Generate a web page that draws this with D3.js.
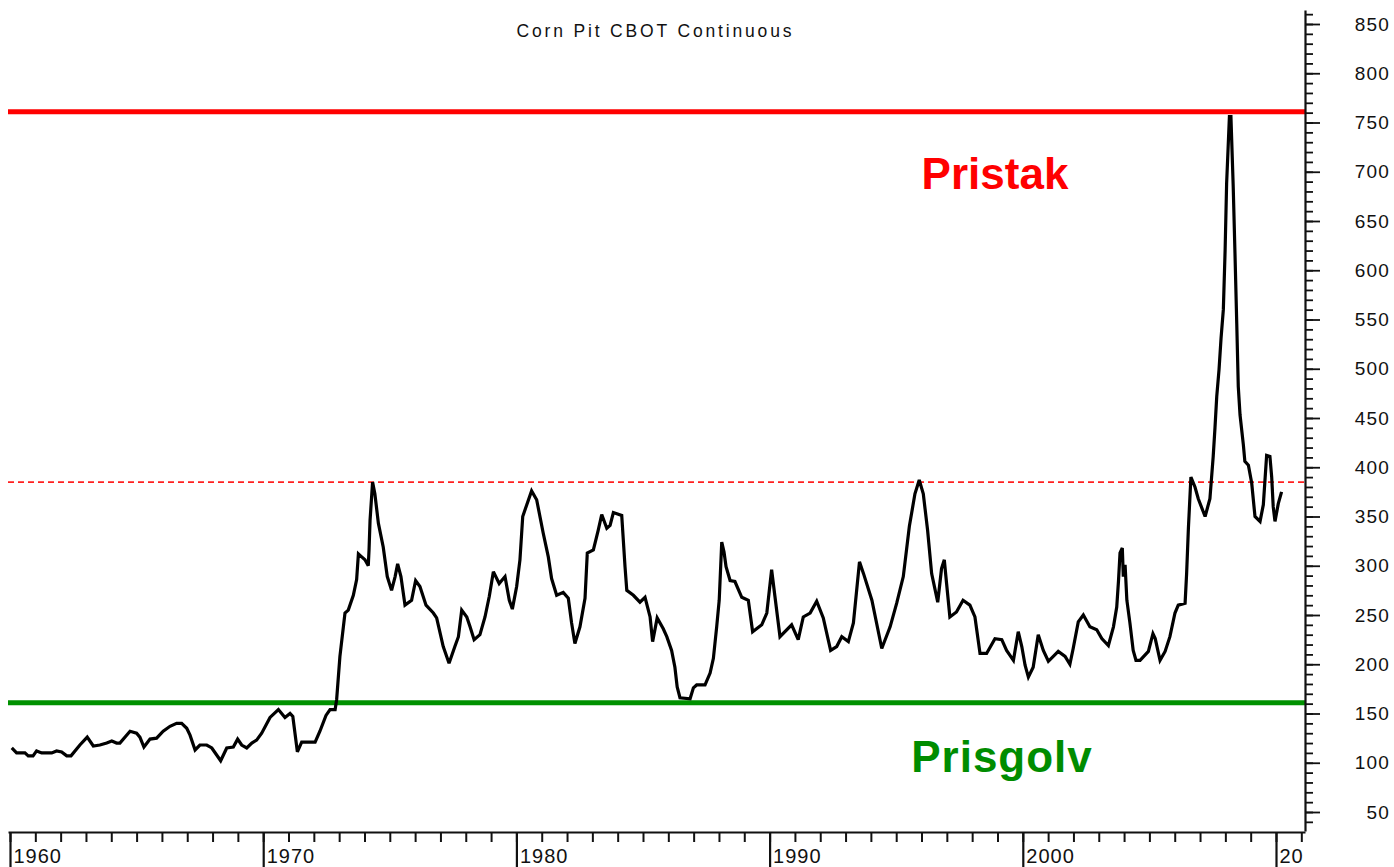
<!DOCTYPE html>
<html>
<head>
<meta charset="utf-8">
<script src="https://cdn.jsdelivr.net/npm/d3@7"></script>
<style>
  body { margin: 0; background: #fff; }
  text { font-family: "Liberation Sans", Arial, sans-serif; }
</style>
</head>
<body>
<svg id="chart"></svg>
<script>
const w = 1394;
const h = 867;

// price series (year, cents/bushel)
const years = [
  1960.07, 1960.26, 1960.59, 1960.72, 1960.91, 1961.05, 1961.25, 1961.65, 1961.84, 1962.04,
  1962.24, 1962.41, 1962.76, 1963.05, 1963.29, 1963.55, 1963.82, 1964.02, 1964.21, 1964.34,
  1964.74, 1965.00, 1965.13, 1965.29, 1965.53, 1965.79, 1966.05, 1966.32, 1966.58, 1966.78,
  1966.98, 1967.11, 1967.31, 1967.50, 1967.77, 1967.97, 1968.32, 1968.56, 1968.82, 1968.99,
  1969.15, 1969.35, 1969.55, 1969.74, 1969.94, 1970.27, 1970.60, 1970.86, 1971.06, 1971.17,
  1971.35, 1971.52, 1972.05, 1972.24, 1972.48, 1972.64, 1972.84, 1972.90, 1973.03, 1973.23,
  1973.36, 1973.56, 1973.69, 1973.76, 1973.89, 1974.02, 1974.15, 1974.18, 1974.22, 1974.32,
  1974.41, 1974.55, 1974.74, 1974.90, 1975.07, 1975.21, 1975.31, 1975.44, 1975.60, 1975.86,
  1976.02, 1976.19, 1976.43, 1976.72, 1976.85, 1977.11, 1977.34, 1977.57, 1977.71, 1977.84,
  1978.04, 1978.17, 1978.33, 1978.56, 1978.76, 1978.93, 1979.09, 1979.32, 1979.55, 1979.72,
  1979.84, 1980.01, 1980.14, 1980.25, 1980.41, 1980.60, 1980.80, 1981.06, 1981.26, 1981.39,
  1981.59, 1981.85, 1982.05, 1982.18, 1982.31, 1982.51, 1982.71, 1982.80, 1983.04, 1983.23,
  1983.37, 1983.57, 1983.70, 1983.83, 1984.16, 1984.29, 1984.36, 1984.62, 1984.88, 1985.08,
  1985.28, 1985.38, 1985.56, 1985.80, 1985.94, 1986.13, 1986.26, 1986.35, 1986.46, 1986.86,
  1986.99, 1987.12, 1987.45, 1987.65, 1987.78, 1987.91, 1988.01, 1988.11, 1988.20, 1988.28,
  1988.44, 1988.63, 1988.90, 1989.16, 1989.33, 1989.69, 1989.89, 1990.08, 1990.21, 1990.41,
  1990.87, 1991.13, 1991.33, 1991.60, 1991.86, 1992.12, 1992.41, 1992.65, 1992.85, 1993.11,
  1993.31, 1993.55, 1993.71, 1994.04, 1994.43, 1994.76, 1995.02, 1995.28, 1995.52, 1995.74,
  1995.91, 1996.07, 1996.24, 1996.40, 1996.64, 1996.79, 1996.90, 1996.99, 1997.12, 1997.38,
  1997.64, 1997.91, 1998.11, 1998.31, 1998.57, 1998.90, 1999.17, 1999.36, 1999.63, 1999.82,
  1999.96, 2000.09, 2000.22, 2000.41, 2000.61, 2000.81, 2001.01, 2001.40, 2001.67, 2001.86,
  2001.99, 2002.19, 2002.39, 2002.65, 2002.92, 2003.12, 2003.38, 2003.58, 2003.71, 2003.78,
  2003.84, 2003.93, 2003.97, 2004.04, 2004.11, 2004.23, 2004.36, 2004.47, 2004.63, 2004.96,
  2005.14, 2005.23, 2005.42, 2005.62, 2005.81, 2006.01, 2006.14, 2006.41, 2006.47, 2006.54,
  2006.64, 2006.80, 2006.93, 2007.20, 2007.39, 2007.52, 2007.59, 2007.66, 2007.75, 2007.83,
  2007.92, 2007.99, 2008.05, 2008.16, 2008.22, 2008.31, 2008.38, 2008.45, 2008.51, 2008.58,
  2008.71, 2008.77, 2008.91, 2009.04, 2009.17, 2009.37, 2009.50, 2009.63, 2009.76, 2009.83,
  2009.89, 2009.96, 2010.09, 2010.22
];
const prices = [
  115, 110, 110, 107, 107, 112, 110, 110, 112, 111,
  107, 107, 118, 126, 117, 118, 120, 122, 120, 120,
  132, 130, 126, 116, 124, 125, 132, 137, 140, 140,
  135, 128, 113, 118, 118, 115, 102, 115, 116, 124,
  118, 115, 120, 123, 130, 146, 154, 146, 150, 147,
  111, 121, 121, 132, 148, 154, 154, 164, 208, 252,
  255, 270, 286, 312, 309, 306, 300, 316, 346, 385,
  373, 343, 319, 289, 275, 289, 302, 289, 260, 265,
  285, 279, 260, 252, 247, 218, 201, 218, 228, 255,
  248, 238, 225, 230, 248, 269, 294, 282, 289, 265,
  256, 279, 306, 350, 362, 376, 367, 333, 309, 287,
  270, 273, 267, 242, 221, 238, 267, 313, 316, 336,
  352, 338, 341, 354, 351, 299, 275, 270, 263, 268,
  248, 223, 247, 236, 228, 214, 197, 177, 166, 165,
  176, 179, 179, 191, 206, 238, 265, 324, 314, 299,
  285, 284, 268, 265, 233, 240, 252, 296, 269, 228,
  240, 225, 248, 252, 264, 247, 214, 218, 228, 223,
  242, 304, 292, 265, 216, 238, 262, 289, 340, 373,
  387, 373, 336, 292, 263, 297, 306, 282, 248, 253,
  265, 260, 248, 211, 211, 226, 225, 214, 204, 233,
  218, 199, 187, 197, 230, 214, 203, 213, 208, 200,
  216, 243, 250, 238, 235, 226, 219, 238, 258, 285,
  313, 318, 289, 301, 265, 242, 214, 204, 204, 213,
  231, 226, 204, 213, 228, 252, 260, 262, 292, 338,
  390, 380, 368, 350, 368, 411, 440, 472, 499, 531,
  560, 620, 688, 756, 756, 685, 617, 546, 482, 453,
  423, 406, 402, 384, 350, 345, 362, 412, 411, 390,
  360, 345, 363, 375
];

// horizontal levels
const ceilingLevel = 761;   // Pristak
const floorLevel = 161;     // Prisgolv
const oldHighLevel = 385;   // dashed line

const xMajorTicks = [1960, 1970, 1980, 1990, 2000, 2010];
const xMinorTicks = d3.range(1960, 2012, 1);
const yMajorTicks = [50, 100, 150, 200, 250, 300, 350, 400, 450, 500, 550, 600, 650, 700, 750, 800, 850];
const yMinorTicks = d3.range(40, 861, 10);

const title = "Corn Pit CBOT Continuous";

const data = years.map((yr, i) => ({ year: yr, price: prices[i] }));

// scales
const xScale = d3.scaleLinear().domain([1960, 2010]).range([10, 1276]);
const yScale = d3.scaleLinear().domain([50, 850]).range([812, 24]);

const frameLeft = 8, frameRight = 1305, frameTop = 10, frameBottom = 831, axisY = 832;

// axis scales: same mapping, stretched to the frame ends
const xAxisScale = xScale.copy().domain([xScale.invert(frameLeft), xScale.invert(frameRight)]).range([frameLeft, frameRight]);
const yAxisScale = yScale.copy().domain([yScale.invert(frameBottom), yScale.invert(frameTop)]).range([frameBottom, frameTop]);

let svg = d3.select("#chart")
            .attr("width", w)
            .attr("height", h)
            .style("background", "#fff");

svg.append("defs").append("clipPath")
   .attr("id", "xclip")
   .append("rect")
   .attr("x", 0).attr("y", 0).attr("width", 1303).attr("height", h);

// title
svg.append("text")
   .attr("x", 654)
   .attr("y", 37)
   .attr("text-anchor", "middle")
   .attr("font-size", 17.5)
   .attr("textLength", 275)
   .attr("lengthAdjust", "spacing")
   .attr("fill", "#111")
   .text(title);

// reference lines
svg.append("line")
   .attr("x1", frameLeft).attr("x2", frameRight)
   .attr("y1", yScale(oldHighLevel)).attr("y2", yScale(oldHighLevel))
   .attr("stroke", "#ff2020")
   .attr("stroke-width", 1.8)
   .attr("stroke-dasharray", "6,4");

svg.append("line")
   .attr("x1", frameLeft).attr("x2", frameRight)
   .attr("y1", yScale(ceilingLevel)).attr("y2", yScale(ceilingLevel))
   .attr("stroke", "#ff0000")
   .attr("stroke-width", 5);

svg.append("line")
   .attr("x1", frameLeft).attr("x2", frameRight)
   .attr("y1", yScale(floorLevel)).attr("y2", yScale(floorLevel))
   .attr("stroke", "#009100")
   .attr("stroke-width", 5);

// price line
const line = d3.line()
               .x(d => xScale(d.year))
               .y(d => yScale(d.price));

svg.append("path")
   .datum(data)
   .attr("d", line)
   .attr("fill", "none")
   .attr("stroke", "#000")
   .attr("stroke-width", 3.2)
   .attr("stroke-linejoin", "miter")
   .attr("stroke-miterlimit", 3);

// labels
svg.append("text")
   .attr("x", 995).attr("y", 189)
   .attr("text-anchor", "middle")
   .attr("font-size", 44)
   .attr("font-weight", "bold")
   .attr("fill", "#ff0000")
   .text("Pristak");

svg.append("text")
   .attr("x", 1002).attr("y", 772)
   .attr("text-anchor", "middle")
   .attr("font-size", 44)
   .attr("font-weight", "bold")
   .attr("letter-spacing", 1)
   .attr("fill", "#008c00")
   .text("Prisgolv");

// x axis
let xAxisMinor = d3.axisBottom(xAxisScale)
                   .tickValues(xMinorTicks)
                   .tickSize(10)
                   .tickSizeOuter(0)
                   .tickFormat("");

svg.append("g")
   .attr("transform", `translate(0, ${axisY})`)
   .call(xAxisMinor)
   .call(g => g.select(".domain").attr("stroke", "#111").attr("stroke-width", 2.2))
   .call(g => g.selectAll(".tick line").attr("stroke", "#111").attr("stroke-width", 2));

let xAxisMajor = d3.axisBottom(xAxisScale)
                   .tickValues(xMajorTicks)
                   .tickSize(40)
                   .tickSizeOuter(0)
                   .tickFormat(d3.format("d"));

svg.append("g")
   .attr("transform", `translate(0, ${axisY})`)
   .attr("clip-path", "url(#xclip)")
   .call(xAxisMajor)
   .call(g => g.select(".domain").remove())
   .call(g => g.selectAll(".tick line").attr("stroke", "#111").attr("stroke-width", 2.2))
   .call(g => g.selectAll(".tick text")
               .attr("x", 3)
               .attr("y", 31)
               .attr("dy", 0)
               .attr("text-anchor", "start")
               .attr("font-size", 20)
               .attr("letter-spacing", 1)
               .attr("fill", "#111"));

// y axis on the right
let yAxisMinor = d3.axisRight(yAxisScale)
                   .tickValues(yMinorTicks)
                   .tickSize(8)
                   .tickSizeOuter(0)
                   .tickFormat("");

svg.append("g")
   .attr("transform", `translate(${frameRight}, 0)`)
   .call(yAxisMinor)
   .call(g => g.select(".domain").attr("stroke", "#111").attr("stroke-width", 2.2))
   .call(g => g.selectAll(".tick line").attr("stroke", "#111").attr("stroke-width", 1.8));

let yAxisMajor = d3.axisRight(yAxisScale)
                   .tickValues(yMajorTicks)
                   .tickSize(15)
                   .tickSizeOuter(0)
                   .tickFormat(d3.format("d"));

svg.append("g")
   .attr("transform", `translate(${frameRight}, 0)`)
   .call(yAxisMajor)
   .call(g => g.select(".domain").remove())
   .call(g => g.selectAll(".tick line").attr("stroke", "#111").attr("stroke-width", 1.8))
   .call(g => g.selectAll(".tick text")
               .attr("x", 85)
               .attr("text-anchor", "end")
               .attr("font-size", 19)
               .attr("letter-spacing", 1.2)
               .attr("fill", "#111"));
</script>
</body>
</html>
